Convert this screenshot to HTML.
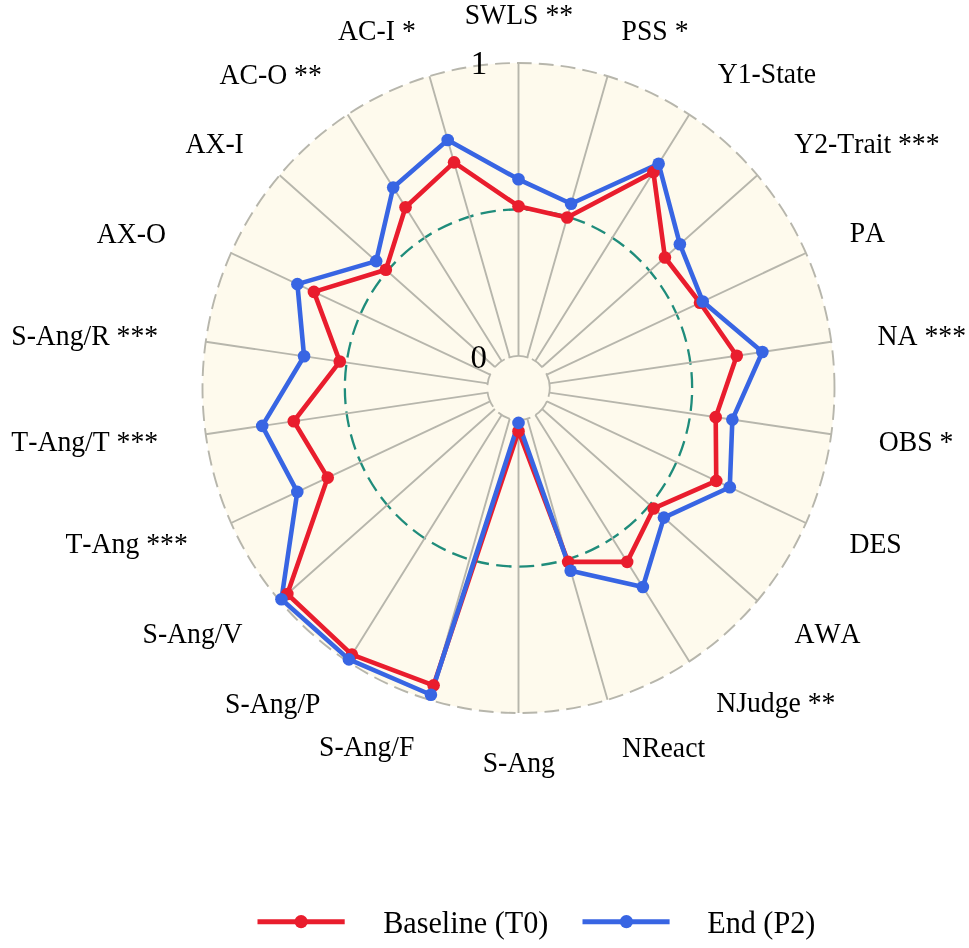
<!DOCTYPE html>
<html lang="en"><head><meta charset="utf-8"><title>Radar chart: Baseline (T0) vs End (P2)</title>
<style>
html,body{margin:0;padding:0;background:#fff}
body{width:969px;height:948px;overflow:hidden}
svg{display:block;will-change:transform}
svg text{font-family:"Liberation Serif","Times New Roman",serif;fill:#000;font-kerning:none;white-space:pre}
</style></head><body>
<svg width="969" height="948" viewBox="0 0 969 948">
<rect width="969" height="948" fill="#fff"/>
<path transform="translate(518.5,388.0) scale(1,1.02848)" d="M316.00,0 A316.00,316.00 0 1 0 -316.00,0 A316.00,316.00 0 1 0 316.00,0" fill="#fefaed" stroke="#b7b6ac" stroke-width="1.9" stroke-dasharray="14.8 7.15"/>
<path transform="translate(518.5,388.0) scale(1,1.02848)" d="M173.65,0 A173.65,173.65 0 1 0 -173.65,0 A173.65,173.65 0 1 0 173.65,0" fill="none" stroke="#1f8c7b" stroke-width="2.3" stroke-dasharray="15.4 7.33"/>
<path d="M518.50,355.90L518.50,63.00M527.29,357.20L607.53,76.16M535.37,361.00L689.34,114.59M542.09,366.98L757.32,175.17M546.89,374.67L805.94,252.99M549.39,383.43L831.28,341.75M549.39,392.57L831.28,434.25M546.89,401.33L805.94,523.01M542.09,409.02L757.32,600.83M535.37,415.00L689.34,661.41M527.29,418.80L607.53,699.84M518.50,420.10L518.50,713.00M509.71,418.80L429.47,699.84M501.63,415.00L347.66,661.41M494.91,409.02L279.68,600.83M490.11,401.33L231.06,523.01M487.61,392.57L205.72,434.25M487.61,383.43L205.72,341.75M490.11,374.67L231.06,252.99M494.91,366.98L279.68,175.17M501.63,361.00L347.66,114.59M509.71,357.20L429.47,76.16" fill="none" stroke="#b7b6ac" stroke-width="1.9"/>
<path d="M548.50,396.85A31.21,32.10 0 0 0 546.21,373.23M542.37,367.32A31.21,32.10 0 0 0 531.89,359.00M528.35,357.54A31.21,32.10 0 0 0 508.54,357.58M504.67,359.22A31.21,32.10 0 0 0 494.70,367.24M490.54,373.73A31.21,32.10 0 0 0 487.41,385.15M487.51,391.86A31.21,32.10 0 0 0 493.19,406.78M498.31,412.48A31.21,32.10 0 0 0 509.79,418.83M521.22,419.98A31.21,32.10 0 0 0 530.39,417.68M535.41,414.98A31.21,32.10 0 0 0 547.01,401.06" fill="none" stroke="#b7b6ac" stroke-width="1.8"/>
<path d="M518.50,206.20L567.18,217.50L653.39,172.13L664.95,257.49L699.99,302.76L736.77,355.72L715.70,417.16L716.26,480.89L653.63,508.43L627.16,561.89L568.14,561.86L518.50,431.20L433.61,685.35L351.92,654.59L287.33,594.02L327.73,477.61L293.78,421.23L339.78,361.57L313.93,291.91L385.86,269.80L405.53,207.21L454.07,162.33Z" fill="none" stroke="#e91d2d" stroke-width="4.6" stroke-linejoin="round"/>
<path d="M518.50,179.30L571.09,203.78L658.64,163.72L679.87,244.19L702.73,301.47L762.37,351.94L732.35,419.62L729.79,487.24L663.92,517.60L642.87,587.04L570.66,570.69L518.50,422.90L430.92,694.75L348.92,659.39L281.45,599.26L297.30,491.90L262.21,425.90L304.07,356.29L297.39,284.15L376.17,261.15L393.18,187.45L447.69,139.97Z" fill="none" stroke="#3865e3" stroke-width="4.6" stroke-linejoin="round"/>
<g fill="#e91d2d"><circle cx="518.50" cy="206.20" r="6.3"/><circle cx="567.18" cy="217.50" r="6.3"/><circle cx="653.39" cy="172.13" r="6.3"/><circle cx="664.95" cy="257.49" r="6.3"/><circle cx="699.99" cy="302.76" r="6.3"/><circle cx="736.77" cy="355.72" r="6.3"/><circle cx="715.70" cy="417.16" r="6.3"/><circle cx="716.26" cy="480.89" r="6.3"/><circle cx="653.63" cy="508.43" r="6.3"/><circle cx="627.16" cy="561.89" r="6.3"/><circle cx="568.14" cy="561.86" r="6.3"/><circle cx="518.50" cy="431.20" r="6.3"/><circle cx="433.61" cy="685.35" r="6.3"/><circle cx="351.92" cy="654.59" r="6.3"/><circle cx="287.33" cy="594.02" r="6.3"/><circle cx="327.73" cy="477.61" r="6.3"/><circle cx="293.78" cy="421.23" r="6.3"/><circle cx="339.78" cy="361.57" r="6.3"/><circle cx="313.93" cy="291.91" r="6.3"/><circle cx="385.86" cy="269.80" r="6.3"/><circle cx="405.53" cy="207.21" r="6.3"/><circle cx="454.07" cy="162.33" r="6.3"/></g>
<g fill="#3865e3"><circle cx="518.50" cy="179.30" r="6.3"/><circle cx="571.09" cy="203.78" r="6.3"/><circle cx="658.64" cy="163.72" r="6.3"/><circle cx="679.87" cy="244.19" r="6.3"/><circle cx="702.73" cy="301.47" r="6.3"/><circle cx="762.37" cy="351.94" r="6.3"/><circle cx="732.35" cy="419.62" r="6.3"/><circle cx="729.79" cy="487.24" r="6.3"/><circle cx="663.92" cy="517.60" r="6.3"/><circle cx="642.87" cy="587.04" r="6.3"/><circle cx="570.66" cy="570.69" r="6.3"/><circle cx="518.50" cy="422.90" r="6.3"/><circle cx="430.92" cy="694.75" r="6.3"/><circle cx="348.92" cy="659.39" r="6.3"/><circle cx="281.45" cy="599.26" r="6.3"/><circle cx="297.30" cy="491.90" r="6.3"/><circle cx="262.21" cy="425.90" r="6.3"/><circle cx="304.07" cy="356.29" r="6.3"/><circle cx="297.39" cy="284.15" r="6.3"/><circle cx="376.17" cy="261.15" r="6.3"/><circle cx="393.18" cy="187.45" r="6.3"/><circle cx="447.69" cy="139.97" r="6.3"/></g>
<text transform="translate(518.9,23.8) scale(1,1.028)" font-size="27.7" text-anchor="middle">SWLS **</text>
<text transform="translate(655.0,39.7) scale(1,1.028)" font-size="27.7" text-anchor="middle">PSS *</text>
<text transform="translate(766.9,83.3) scale(1,1.028)" font-size="27.7" text-anchor="middle">Y1-State</text>
<text transform="translate(866.9,152.7) scale(1,1.028)" font-size="27.7" text-anchor="middle">Y2-Trait ***</text>
<text transform="translate(867.4,242.4) scale(1,1.028)" font-size="27.7" text-anchor="middle">PA</text>
<text transform="translate(921.8,345.0) scale(1,1.028)" font-size="27.7" text-anchor="middle">NA ***</text>
<text transform="translate(916.1,451.0) scale(1,1.028)" font-size="27.7" text-anchor="middle">OBS *</text>
<text transform="translate(875.6,553.3) scale(1,1.028)" font-size="27.7" text-anchor="middle">DES</text>
<text transform="translate(827.5,643.0) scale(1,1.028)" font-size="27.7" text-anchor="middle">AWA</text>
<text transform="translate(775.8,712.4) scale(1,1.028)" font-size="27.7" text-anchor="middle">NJudge **</text>
<text transform="translate(663.6,756.5) scale(1,1.028)" font-size="27.7" text-anchor="middle">NReact</text>
<text transform="translate(518.8,771.8) scale(1,1.028)" font-size="27.7" text-anchor="middle">S-Ang</text>
<text transform="translate(366.7,755.8) scale(1,1.028)" font-size="27.7" text-anchor="middle">S-Ang/F</text>
<text transform="translate(272.8,712.9) scale(1,1.028)" font-size="27.7" text-anchor="middle">S-Ang/P</text>
<text transform="translate(192.5,642.8) scale(1,1.028)" font-size="27.7" text-anchor="middle">S-Ang/V</text>
<text transform="translate(126.6,553.2) scale(1,1.028)" font-size="27.7" text-anchor="middle">T-Ang ***</text>
<text transform="translate(84.7,450.6) scale(1,1.028)" font-size="27.7" text-anchor="middle">T-Ang/T ***</text>
<text transform="translate(84.7,344.8) scale(1,1.028)" font-size="27.7" text-anchor="middle">S-Ang/R ***</text>
<text transform="translate(131.4,242.5) scale(1,1.028)" font-size="27.7" text-anchor="middle">AX-O</text>
<text transform="translate(214.6,153.2) scale(1,1.028)" font-size="27.7" text-anchor="middle">AX-I</text>
<text transform="translate(270.6,83.6) scale(1,1.028)" font-size="27.7" text-anchor="middle">AC-O **</text>
<text transform="translate(376.9,39.6) scale(1,1.028)" font-size="27.7" text-anchor="middle">AC-I *</text>
<text transform="translate(470.8,74.0) scale(1,1.028)" font-size="33" text-anchor="start">1</text>
<text transform="translate(470.4,367.8) scale(1,1.028)" font-size="33" text-anchor="start">0</text>
<path d="M257.5,921.7H344.7" stroke="#e91d2d" stroke-width="5"/><circle cx="301.1" cy="921.7" r="6.6" fill="#e91d2d"/>
<path d="M582.5,921.7H669.6" stroke="#3865e3" stroke-width="5"/><circle cx="626.4" cy="921.7" r="6.6" fill="#3865e3"/>
<text transform="translate(383.2,932.6) scale(1,1.028)" font-size="30.2" text-anchor="start">Baseline (T0)</text>
<text transform="translate(707.2,932.6) scale(1,1.028)" font-size="30.2" text-anchor="start">End (P2)</text>
</svg>
</body></html>
